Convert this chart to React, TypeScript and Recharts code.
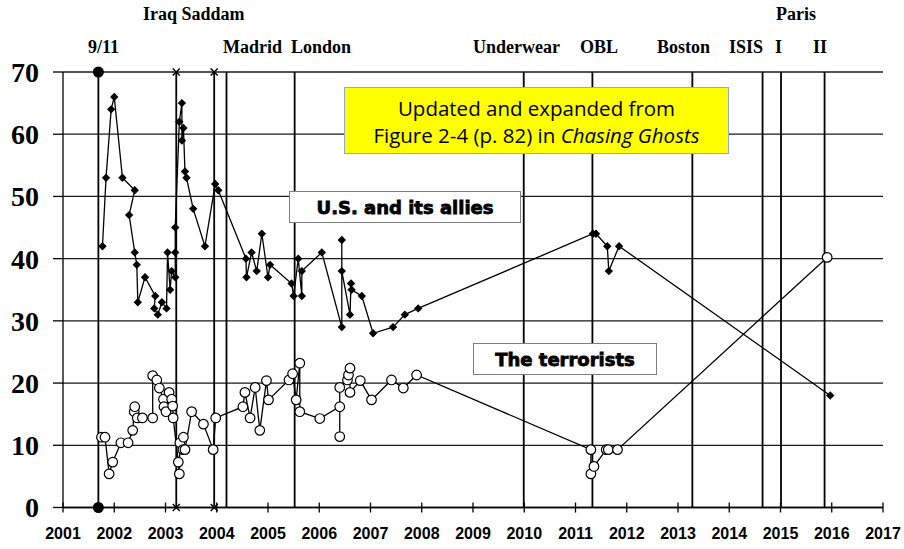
import { ComposedChart, Scatter, XAxis, YAxis, CartesianGrid, ReferenceLine } from 'recharts';

const yearTicks = [2001, 2002, 2003, 2004, 2005, 2006, 2007, 2008, 2009, 2010, 2011, 2012, 2013, 2014, 2015, 2016, 2017];
const valueTicks = [0, 10, 20, 30, 40, 50, 60, 70];

// U.S. and its allies (dates as decimal years, in the order the line joins them)
const alliesYears = [
    2001.77, 2001.84, 2001.94, 2002.0, 2002.16, 2002.4, 2002.29, 2002.4, 2002.44, 2002.46,
    2002.6, 2002.8, 2002.78, 2002.85, 2002.93, 2003.02, 2003.04, 2003.09, 2003.12, 2003.19,
    2003.19, 2003.19, 2003.27, 2003.32, 2003.32, 2003.35, 2003.38, 2003.41, 2003.54, 2003.77,
    2003.97, 2004.03, 2004.57, 2004.58, 2004.68, 2004.78, 2004.88, 2005.0, 2005.04, 2005.46,
    2005.5, 2005.59, 2005.66, 2005.66, 2006.05, 2006.44, 2006.44, 2006.44, 2006.6, 2006.62,
    2006.63, 2006.83, 2007.05, 2007.44, 2007.67, 2007.93, 2011.34, 2011.4, 2011.62, 2011.65,
    2011.85, 2015.97,
];
const alliesValues = [
    42, 53, 64, 66, 53, 51, 47, 41, 39, 33,
    37, 34, 32, 31, 33, 32, 41, 35, 38, 37,
    41, 45, 62, 65, 59, 61, 54, 53, 48, 42,
    52, 51, 40, 37, 41, 38, 44, 37, 39, 36,
    34, 40, 34, 38, 41, 29, 43, 38, 31, 36,
    35, 34, 28, 29, 31, 32, 44, 44, 42, 38,
    42, 18,
];

// The terrorists
const terroristYears = [
    2001.75, 2001.82, 2001.9, 2001.97, 2002.13, 2002.27, 2002.36, 2002.39, 2002.4, 2002.45,
    2002.55, 2002.75, 2002.75, 2002.83, 2002.88, 2002.96, 2002.97, 2003.01, 2003.07, 2003.12,
    2003.14, 2003.15, 2003.25, 2003.27, 2003.28, 2003.35, 2003.34, 2003.38, 2003.51, 2003.74,
    2003.93, 2003.98, 2004.51, 2004.55, 2004.65, 2004.75, 2004.84, 2004.97, 2005.01, 2005.41,
    2005.48, 2005.55, 2005.62, 2005.62, 2006.01, 2006.4, 2006.4, 2006.4, 2006.55, 2006.57,
    2006.6, 2006.6, 2006.8, 2007.02, 2007.41, 2007.64, 2007.9, 2011.3, 2011.3, 2011.36,
    2011.6, 2011.64, 2011.82, 2015.91,
];
const terroristValues = [
    11.3, 11.3, 5.4, 7.3, 10.4, 10.4, 12.4, 15.4, 16.2, 14.4,
    14.4, 14.4, 21.2, 20.5, 19.2, 17.4, 16.2, 15.4, 18.5, 17.4,
    16.3, 14.4, 7.3, 5.4, 10.4, 11.3, 9.3, 9.3, 15.4, 13.4,
    9.3, 14.4, 16.2, 18.5, 14.4, 19.3, 12.4, 20.4, 17.3, 20.5,
    21.5, 17.3, 23.2, 15.4, 14.3, 16.2, 11.4, 19.3, 20.5, 21.3,
    22.4, 18.5, 20.4, 17.3, 20.5, 19.2, 21.3, 9.3, 5.4, 6.6,
    9.3, 9.3, 9.3, 40.2,
];

// attack / event dates drawn as vertical lines
const eventYears = [2001.69, 2003.21, 2003.95, 2004.19, 2005.52, 2009.99, 2011.33, 2013.28, 2014.65, 2015.01, 2015.86];
const dotEventYears = [2001.69];
const crossEventYears = [2003.21, 2003.95];

const alliesData = alliesYears.map((x, i) => ({ x, y: alliesValues[i] }));
const terroristData = terroristYears.map((x, i) => ({ x, y: terroristValues[i] }));
const dotMarks = dotEventYears.flatMap((x) => [{ x, y: 0 }, { x, y: 70 }]);
const crossMarks = crossEventYears.flatMap((x) => [{ x, y: 0 }, { x, y: 70 }]);

const serif = '"Liberation Serif", "Times New Roman", serif';
const sans = '"Liberation Sans", Arial, sans-serif';

function Diamond(props: any) {
    const { cx, cy } = props;
    const r = 4.2;
    return <polygon points={`${cx},${cy - r} ${cx + r},${cy} ${cx},${cy + r} ${cx - r},${cy}`} fill="#000" />;
}

function OpenCircle(props: any) {
    const { cx, cy } = props;
    return <circle cx={cx} cy={cy} r={4.8} fill="#fff" stroke="#000" strokeWidth={1.2} />;
}

function BigDot(props: any) {
    const { cx, cy } = props;
    return <circle cx={cx} cy={cy} r={5.5} fill="#000" />;
}

function Cross(props: any) {
    const { cx, cy } = props;
    const r = 3.5;
    return (
        <g stroke="#000" strokeWidth={1.4}>
            <line x1={cx - r} y1={cy - r} x2={cx + r} y2={cy + r} />
            <line x1={cx - r} y1={cy + r} x2={cx + r} y2={cy - r} />
        </g>
    );
}

function YearTick(props: any) {
    const { x, y, payload } = props;
    return (
        <g>
            <line x1={x} x2={x} y1={y - 10} y2={y} stroke="#000" strokeWidth={1.3} />
            <text x={x} y={y + 26.5} textAnchor="middle" fontFamily={sans} fontWeight="bold" fontSize={16} fill="#000">
                {payload.value}
            </text>
        </g>
    );
}

const topLabel: React.CSSProperties = {
    position: 'absolute',
    fontFamily: serif,
    fontWeight: 'bold',
    fontSize: 18,
    lineHeight: '18px',
    color: '#000',
    whiteSpace: 'pre',
};

const seriesBox: React.CSSProperties = {
    position: 'absolute',
    background: '#fff',
    border: '1px solid #7f7f7f',
    display: 'flex',
    alignItems: 'center',
    justifyContent: 'center',
    fontFamily: '"DejaVu Sans", Arial, sans-serif',
    fontWeight: 'bold',
    fontSize: 18,
    color: '#000',
    WebkitTextStroke: '0.8px #000',
    boxSizing: 'border-box',
};

export default function App() {
    return (
        <div style={{ position: 'fixed', left: 0, top: 0, width: 904, height: 549, background: '#fff' }}>
            <ComposedChart width={904} height={549} margin={{ top: 72, right: 21, bottom: 0, left: 0 }}>
                <CartesianGrid vertical={false} stroke="#000" strokeWidth={1.3} strokeOpacity={0.9} />
                <XAxis
                    type="number"
                    dataKey="x"
                    domain={[2001, 2017]}
                    ticks={yearTicks}
                    interval={0}
                    height={41.5}
                    axisLine={{ stroke: '#000', strokeWidth: 1.3 }}
                    tickLine={false}
                    tickSize={5}
                    tickMargin={0}
                    tick={<YearTick />}
                />
                <YAxis
                    type="number"
                    dataKey="y"
                    domain={[0, 70]}
                    ticks={valueTicks}
                    interval={0}
                    width={63}
                    axisLine={{ stroke: '#000', strokeWidth: 1.3 }}
                    tickLine={{ stroke: '#000', strokeWidth: 1.3 }}
                    tickSize={10}
                    tickMargin={14}
                    tick={{ fontFamily: serif, fontWeight: 'bold', fontSize: 28, fill: '#000' }}
                />
                {eventYears.map((yr) => (
                    <ReferenceLine key={yr} x={yr} stroke="#000" strokeWidth={1.8} />
                ))}
                <Scatter
                    data={alliesData}
                    line={{ stroke: '#000', strokeWidth: 1.3 }}
                    shape={<Diamond />}
                    isAnimationActive={false}
                />
                <Scatter
                    data={terroristData}
                    line={{ stroke: '#000', strokeWidth: 1.3 }}
                    shape={<OpenCircle />}
                    isAnimationActive={false}
                />
                <Scatter data={dotMarks} shape={<BigDot />} isAnimationActive={false} />
                <Scatter data={crossMarks} shape={<Cross />} isAnimationActive={false} />
            </ComposedChart>

            <div style={{ ...topLabel, left: 143, top: 5 }}>Iraq Saddam</div>
            <div style={{ ...topLabel, left: 776, top: 5 }}>Paris</div>
            <div style={{ ...topLabel, left: 88, top: 38 }}>9/11</div>
            <div style={{ ...topLabel, left: 223, top: 38 }}>Madrid  London</div>
            <div style={{ ...topLabel, left: 473, top: 38 }}>Underwear</div>
            <div style={{ ...topLabel, left: 580, top: 38 }}>OBL</div>
            <div style={{ ...topLabel, left: 657, top: 38 }}>Boston</div>
            <div style={{ ...topLabel, left: 729, top: 38 }}>ISIS</div>
            <div style={{ ...topLabel, left: 775, top: 38 }}>I</div>
            <div style={{ ...topLabel, left: 813, top: 38 }}>II</div>

            <div
                style={{
                    position: 'absolute',
                    left: 344,
                    top: 87,
                    width: 385,
                    height: 67,
                    background: '#ffff00',
                    border: '1px solid #8eaadb',
                    boxSizing: 'border-box',
                    fontFamily: '"Open Sans", "Noto Sans", sans-serif',
                    fontSize: 20.5,
                    lineHeight: '27px',
                    color: '#000',
                    textAlign: 'center',
                    paddingTop: 7,
                    whiteSpace: 'nowrap',
                }}
            >
                Updated and expanded from
                <br />
                Figure 2-4 (p. 82) in <i>Chasing Ghosts</i>
            </div>

            <div style={{ ...seriesBox, left: 289, top: 191, width: 232, height: 32 }}>U.S. and its allies</div>
            <div style={{ ...seriesBox, left: 473, top: 343, width: 184, height: 32 }}>The terrorists</div>
        </div>
    );
}
